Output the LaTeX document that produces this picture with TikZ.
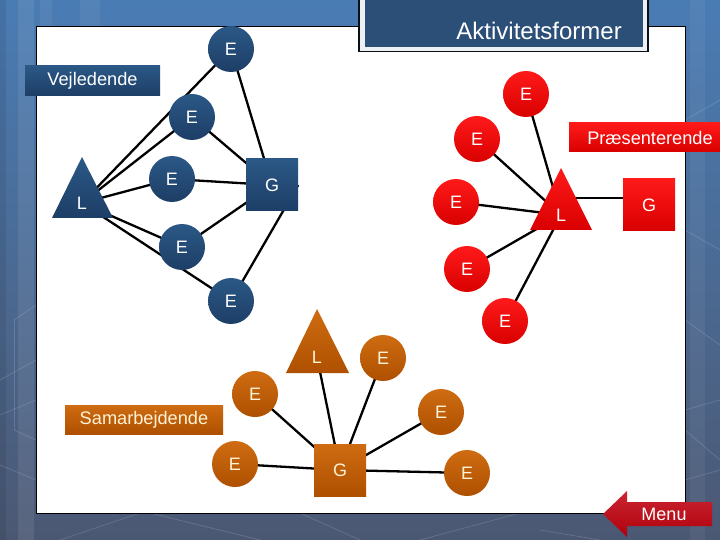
\documentclass[tikz,border=0pt]{standalone}
\usepackage{fontspec}
\setmainfont{Liberation Sans}
\definecolor{bgTop}{HTML}{4A7CB4}
\definecolor{bgMid}{HTML}{52709A}
\definecolor{bgBot}{HTML}{4B5873}
\definecolor{bluT}{HTML}{2B5886}
\definecolor{bluB}{HTML}{1D3E66}
\definecolor{redT}{HTML}{FF1A1A}
\definecolor{redB}{HTML}{D90000}
\definecolor{oraT}{HTML}{CF6C12}
\definecolor{oraB}{HTML}{AE5000}
\definecolor{navy}{HTML}{2B4F77}
\definecolor{menuR}{HTML}{C2000E}
\definecolor{cream}{HTML}{FFF3D6}
\pgfdeclarelayer{bg}
\pgfdeclarelayer{lines}
\pgfsetlayers{bg,lines,main}
\begin{document}
\begin{tikzpicture}[x=1pt,y=-1pt,
  every node/.style={inner sep=0pt},
  ball/.style={circle,minimum size=46pt,text=white,font=\fontsize{18}{19}\selectfont},
  sqr/.style={rectangle,minimum size=52pt,text=white,font=\fontsize{18}{19}\selectfont},
  tlab/.style={text=white,font=\fontsize{18}{19}\selectfont},
  bar/.style={rectangle,text=white,font=\fontsize{18.2}{19}\selectfont},
  blu/.style={top color=bluT,bottom color=bluB},
  rd/.style={top color=redT,bottom color=redB},
  ora/.style={top color=oraT,bottom color=oraB,text=cream},
  link/.style={line width=2.3pt,black},
  tex/.style={white,opacity=0.14,line width=0.8pt}]
\useasboundingbox (0,0) rectangle (720,540);
\begin{pgfonlayer}{bg}
  \shade[top color=bgTop,middle color=bgMid,bottom color=bgBot] (0,0) rectangle (720,540);
  % vertical bands on the left
  \fill[white,opacity=0.08] (18,0) rectangle (34,540);
  \fill[black,opacity=0.08] (0,0) rectangle (6,540);
  \fill[white,opacity=0.06] (40,0) rectangle (52,26);
  \fill[white,opacity=0.06] (80,0) rectangle (100,26);
  \fill[white,opacity=0.05] (690,0) rectangle (705,540);
  % faint texture lines
  \draw[tex] (0,415) -- (36,400);
  \draw[tex] (0,465) -- (36,480);
  \draw[tex] (14,320) -- (36,305);
  \draw[tex] (14,320) -- (14,430);
  \draw[tex] (14,430) -- (36,440);
  \draw[tex] (0,380) -- (36,360);
  \draw[tex] (60,540) -- (140,513);
  \draw[tex] (150,513) -- (260,540);
  \draw[tex] (300,513) -- (360,540);
  \draw[tex] (420,540) -- (520,513);
  \draw[tex] (540,530) -- (600,540);
  \draw[tex] (685,410) -- (720,400);
  \draw[tex] (685,320) -- (720,345);
  \draw[tex] (685,430) -- (720,460);
  \draw[tex] (685,480) -- (720,470);
  \draw[tex] (685,120) -- (720,100);
  \draw[tex] (685,230) -- (720,250);
  % white panel
  \draw[fill=white,draw=black,line width=0.8pt] (36,26) rectangle (685,513);
  % title box
  \fill[black!80!navy] (358,-5) rectangle (649,52.5);
  \fill[white!92!navy] (360,-5) rectangle (647,51);
  \fill[navy] (364.5,-5) rectangle (643,47);
\end{pgfonlayer}
\node[anchor=east,text=white,font=\fontsize{24}{26}\selectfont] (title) at (622,31) {Aktivitetsformer};

% ---------- blue group (Vejledende)
\shade[top color=bluT,bottom color=bluB] (82,157) -- (113,218) -- (52,218) -- cycle;
\node[tlab] (Lb) at (82,203) {L};
\node[ball,blu] (Eb1) at (231,49) {E};
\node[ball,blu] (Eb2) at (192,117) {E};
\node[ball,blu] (Eb3) at (172,179) {E};
\node[ball,blu] (Eb4) at (182,247) {E};
\node[ball,blu] (Eb5) at (231,301) {E};
\node[sqr,blu] (Gb) at (272,185) {G};
\node[bar,blu,minimum width=135pt,minimum height=30pt] (vej) at (92.5,81) {Vejledende};

% ---------- red group (Praesenterende)
\shade[top color=redT,bottom color=redB] (561,168) -- (592,230) -- (530,230) -- cycle;
\node[tlab] (Lr) at (561,215) {L};
\node[ball,rd] (Er1) at (526,94) {E};
\node[ball,rd] (Er2) at (477,139) {E};
\node[ball,rd] (Er3) at (456,202) {E};
\node[ball,rd] (Er4) at (467,269) {E};
\node[ball,rd] (Er5) at (505,321) {E};
\node[sqr,rd] (Gr) at (649,205) {G};
\node[bar,rd,minimum width=162pt,minimum height=29pt] (pra) at (650,137.5) {Præsenterende};

% ---------- orange group (Samarbejdende)
\shade[top color=oraT,bottom color=oraB] (317,309) -- (349,373) -- (286,373) -- cycle;
\node[tlab,text=cream] (Lo) at (317,357) {L};
\node[ball,ora] (Eo1) at (383,358) {E};
\node[ball,ora] (Eo2) at (255,394) {E};
\node[ball,ora] (Eo3) at (235,464) {E};
\node[ball,ora] (Eo5) at (441,412) {E};
\node[ball,ora] (Eo6) at (467,473) {E};
\node[sqr,ora] (Go) at (340,470) {G};
\node[bar,ora,minimum width=158pt,minimum height=29pt] (sam) at (144,419.5) {Samarbejdende};

% ---------- menu arrow
\shade[top color=menuR!85!white,bottom color=menuR!90!black] (603,514) -- (627,491) -- (627,502) -- (712,502) -- (712,526) -- (627,526) -- (627,537) -- cycle;
\node[text=white,font=\fontsize{18}{19}\selectfont] (menu) at (664,514) {Menu};

% ---------- connectors
\begin{pgfonlayer}{lines}
  \foreach \n in {Eb1,Eb2,Eb3,Eb4,Eb5} \draw[link] (Lb.center) -- (\n.center);
  \foreach \n in {Eb1,Eb2,Eb3,Eb4} \draw[link] (Gb.center) -- (\n.center);
  \draw[link] (Gb.east) -- (Eb5.center);
  \foreach \n in {Er1,Er2,Er3,Er4,Er5} \draw[link] (Lr.center) -- (\n.center);
  \draw[link] (Lr |- Gr.165) -- (Gr.165);
  \foreach \n in {Lo,Eo1,Eo2,Eo3,Eo5,Eo6} \draw[link] (Go.center) -- (\n.center);
\end{pgfonlayer}
\end{tikzpicture}
\end{document}
